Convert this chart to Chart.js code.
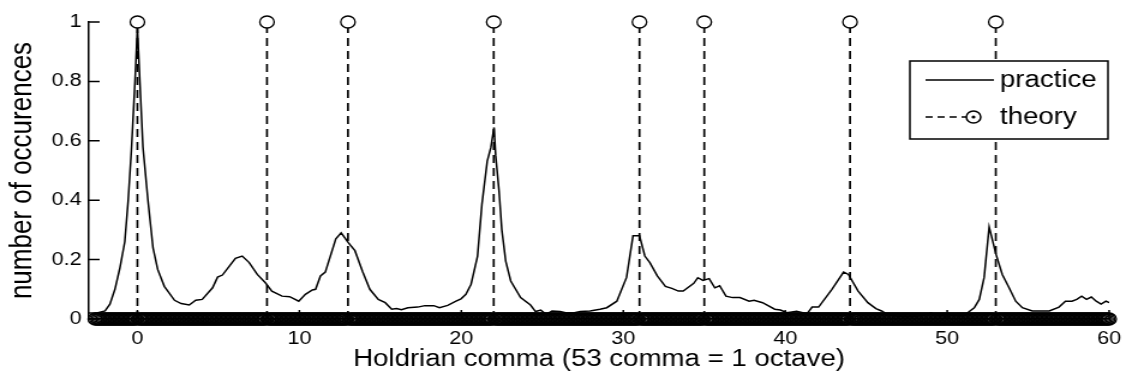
<!DOCTYPE html>
<html>
<head>
<meta charset="utf-8">
<script src="https://cdn.jsdelivr.net/npm/chart.js@4"></script>
<style>
  html, body { margin: 0; padding: 0; background: #fff; overflow: hidden; }
  /* the figure is stretched sideways, so draw narrow and scale the box */
  #wrap { width: 943px; height: 387px; transform: scaleX(1.2004); transform-origin: 0 0; }
</style>
</head>
<body>
<div id="wrap"><canvas id="chart" width="943" height="387"></canvas></div>
<script>
// practice curve
const practiceX = [-3, -2.5, -2.0, -1.7, -1.39, -1.09, -0.78, -0.57, -0.37, -0.15, 0, 0.15, 0.34, 0.65, 0.96, 1.25, 1.66, 2.29, 2.7, 3.2, 3.6, 4.0, 4.64, 4.95, 5.25, 5.7, 6.05, 6.47, 6.9, 7.4, 7.9, 8.3, 8.93, 9.4, 9.96, 10.37, 10.8, 11.0, 11.3, 11.6, 12.25, 12.58, 13.02, 13.43, 13.9, 14.35, 14.87, 15.3, 15.7, 16.0, 16.3, 16.7, 17.3, 17.75, 18.3, 18.65, 19.16, 19.67, 19.98, 20.28, 20.6, 21.0, 21.27, 21.6, 21.82, 22.02, 22.12, 22.33, 22.5, 22.74, 23.05, 23.66, 24.27, 24.58, 24.9, 25.24, 25.6, 26.1, 26.5, 26.9, 27.34, 27.95, 28.56, 28.98, 29.6, 30.2, 30.6, 31.0, 31.33, 31.64, 32.1, 32.6, 33.0, 33.4, 33.7, 34.35, 34.6, 34.92, 35.3, 35.65, 35.95, 36.34, 36.75, 37.2, 37.77, 38.07, 38.6, 39.35, 39.7, 40.1, 40.7, 41.35, 41.66, 42.06, 42.88, 43.6, 43.9, 44.5, 45.1, 45.6, 45.95, 46.3, 46.9, 47.5, 48.2, 48.8, 49.0, 49.5, 50.0, 50.5, 50.96, 51.26, 51.67, 51.98, 52.28, 52.59, 53.0, 53.4, 53.82, 54.23, 54.64, 55.25, 56.3, 56.9, 57.3, 57.7, 58.0, 58.3, 58.6, 58.9, 59.2, 59.5, 59.8, 60.0];
const practiceY = [0.02, 0.02, 0.027, 0.05, 0.1, 0.17, 0.26, 0.4, 0.57, 0.8, 0.98, 0.8, 0.58, 0.4, 0.24, 0.167, 0.11, 0.063, 0.052, 0.047, 0.063, 0.066, 0.105, 0.141, 0.148, 0.18, 0.204, 0.212, 0.19, 0.15, 0.122, 0.094, 0.077, 0.075, 0.06, 0.083, 0.098, 0.1, 0.145, 0.158, 0.27, 0.29, 0.257, 0.23, 0.16, 0.1, 0.066, 0.055, 0.033, 0.035, 0.031, 0.038, 0.04, 0.045, 0.045, 0.038, 0.046, 0.06, 0.068, 0.083, 0.117, 0.212, 0.386, 0.532, 0.577, 0.645, 0.55, 0.43, 0.3, 0.195, 0.128, 0.072, 0.047, 0.025, 0.03, 0.016, 0.027, 0.025, 0.02, 0.02, 0.025, 0.027, 0.033, 0.038, 0.06, 0.14, 0.28, 0.28, 0.212, 0.19, 0.145, 0.11, 0.103, 0.094, 0.094, 0.12, 0.139, 0.13, 0.136, 0.105, 0.112, 0.077, 0.072, 0.072, 0.06, 0.063, 0.055, 0.033, 0.03, 0.021, 0.026, 0.018, 0.04, 0.04, 0.1, 0.158, 0.15, 0.094, 0.055, 0.035, 0.027, 0.016, 0.01, 0.008, 0.01, 0.016, 0.021, 0.01, 0.015, 0.012, 0.01, 0.021, 0.038, 0.066, 0.14, 0.31, 0.22, 0.15, 0.105, 0.06, 0.038, 0.027, 0.027, 0.04, 0.06, 0.06, 0.066, 0.077, 0.066, 0.074, 0.06, 0.05, 0.06, 0.055];

// theory: stems of height 1 on a 0.1 grid, zero elsewhere
const stemX = [0, 8, 13, 22, 31, 35, 44, 53];
const stemY = [1, 1, 1, 1, 1, 1, 1, 1];
const gridStart = -2.6, gridEnd = 60, gridStep = 0.1;

const xTicks = [0, 10, 20, 30, 40, 50, 60];
const yTicks = [0, 0.2, 0.4, 0.6, 0.8, 1];

const FONT = "'Liberation Sans', Arial, sans-serif";

const theoryPts = [];
const nGrid = Math.round((gridEnd - gridStart) / gridStep);
for (let i = 0; i <= nGrid; i++) {
    const x = +(gridStart + i * gridStep).toFixed(1);
    const k = stemX.indexOf(x);
    theoryPts.push({ x: x, y: k >= 0 ? stemY[k] : 0 });
}
const stemPts = [];
stemX.forEach((x, i) => {
    stemPts.push({ x: x, y: 0 }, { x: x, y: stemY[i] }, { x: x, y: null });
});

const innerTicks = {
    id: 'innerTicks',
    beforeDatasetsDraw(chart) {
        const { ctx, chartArea: a, scales: { x, y } } = chart;
        ctx.save();
        ctx.strokeStyle = '#000';
        ctx.lineWidth = 1.5;
        ctx.beginPath();
        xTicks.forEach(v => {
            const px = x.getPixelForValue(v);
            ctx.moveTo(px, a.bottom);
            ctx.lineTo(px, a.bottom - 9);
        });
        yTicks.forEach(v => {
            const py = y.getPixelForValue(v);
            ctx.moveTo(a.left, py);
            ctx.lineTo(a.left + 9, py);
        });
        ctx.stroke();
        ctx.restore();
    }
};

// matlab style legend box, top right
const boxLegend = {
    id: 'boxLegend',
    afterDraw(chart) {
        const ctx = chart.ctx;
        const bx = 758, by = 61, bw = 165, bh = 78;
        ctx.save();
        ctx.fillStyle = '#fff';
        ctx.fillRect(bx, by, bw, bh);
        ctx.strokeStyle = '#000';
        ctx.lineWidth = 1.5;
        ctx.strokeRect(bx, by, bw, bh);

        ctx.lineWidth = 1.5;
        ctx.beginPath();
        ctx.moveTo(771, 80);
        ctx.lineTo(828, 80);
        ctx.stroke();

        ctx.setLineDash([6, 4]);
        ctx.beginPath();
        ctx.moveTo(771, 117);
        ctx.lineTo(805, 117);
        ctx.stroke();
        ctx.setLineDash([]);
        ctx.beginPath();
        ctx.arc(811, 117, 6, 0, Math.PI * 2);
        ctx.fillStyle = '#fff';
        ctx.fill();
        ctx.stroke();
        ctx.beginPath();
        ctx.arc(811, 117, 1.6, 0, Math.PI * 2);
        ctx.fillStyle = '#000';
        ctx.fill();

        ctx.fillStyle = '#000';
        ctx.font = '23px ' + FONT;
        ctx.textBaseline = 'middle';
        ctx.textAlign = 'left';
        ctx.fillText('practice', 833, 81);
        ctx.fillText('theory', 833, 118);
        ctx.restore();
    }
};

new Chart(document.getElementById('chart'), {
    type: 'line',
    data: {
        datasets: [
            {
                label: 'theory',
                data: theoryPts,
                showLine: false,
                pointStyle: 'circle',
                pointRadius: 6,
                pointBorderWidth: 1.3,
                pointBorderColor: '#000',
                pointBackgroundColor: c => (c.raw && c.raw.y > 0) ? '#fff' : 'rgba(0,0,0,0)',
                clip: false,
                order: 0
            },
            {
                label: 'stems',
                data: stemPts,
                borderColor: '#000',
                borderWidth: 1.7,
                borderDash: [8, 5],
                pointRadius: 0,
                spanGaps: false,
                fill: false,
                order: 1
            },
            {
                label: 'practice',
                data: practiceX.map((x, i) => ({ x: x, y: practiceY[i] })),
                borderColor: '#000',
                borderWidth: 1.5,
                pointRadius: 0,
                tension: 0,
                fill: false,
                order: 2
            }
        ]
    },
    options: {
        responsive: false,
        animation: false,
        devicePixelRatio: 1,
        layout: { padding: { top: 22, right: 13, left: 0, bottom: 0 } },
        plugins: { legend: { display: false }, tooltip: { enabled: false } },
        scales: {
            x: {
                type: 'linear',
                min: -3,
                max: 60,
                afterBuildTicks: s => { s.ticks = xTicks.map(v => ({ value: v })); },
                afterFit: s => { s.height = 68; },
                grid: { drawOnChartArea: false, drawTicks: false },
                border: { display: true, color: '#000', width: 1.5 },
                ticks: { color: '#000', font: { family: FONT, size: 18 }, padding: 9, maxRotation: 0 },
                title: {
                    display: true,
                    text: 'Holdrian comma (53 comma = 1 octave)',
                    color: '#000',
                    font: { family: FONT, size: 23 },
                    padding: { top: 0, bottom: 14 }
                }
            },
            y: {
                type: 'linear',
                min: 0,
                max: 1,
                afterBuildTicks: s => { s.ticks = yTicks.map(v => ({ value: v })); },
                afterFit: s => { s.width = 74; },
                grid: { drawOnChartArea: false, drawTicks: false },
                border: { display: true, color: '#000', width: 1.5 },
                ticks: { color: '#000', font: { family: FONT, size: 18 }, padding: 6, callback: v => String(v) },
                title: {
                    display: true,
                    text: 'number of occurences',
                    color: '#000',
                    font: { family: FONT, size: 26 },
                    padding: { top: 3, bottom: 0 }
                }
            }
        }
    },
    plugins: [innerTicks, boxLegend]
});
</script>
</body>
</html>
